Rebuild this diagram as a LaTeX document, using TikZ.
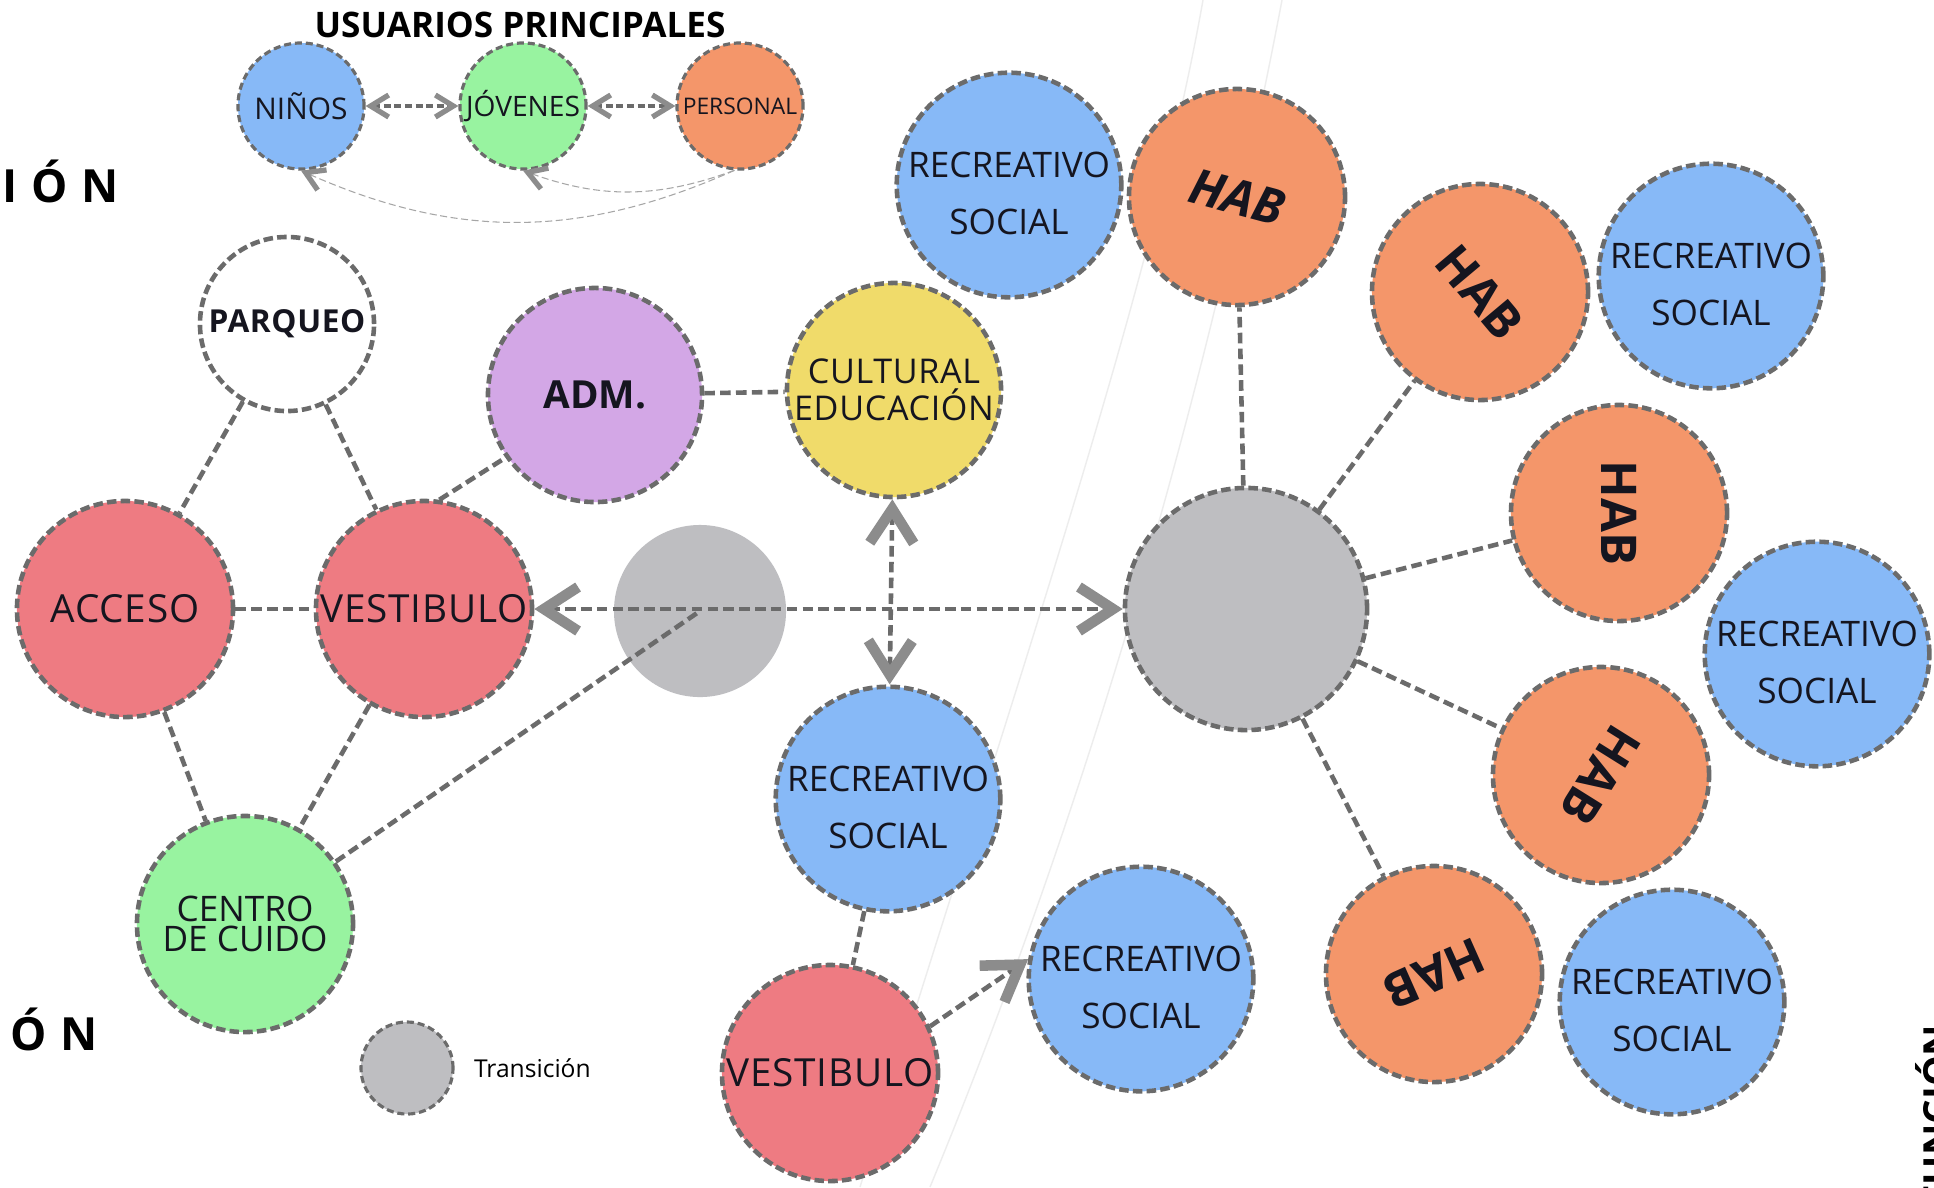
\documentclass[tikz,border=0pt]{standalone}
\usepackage{fontspec}
\usepackage{graphicx}
\usetikzlibrary{arrows.meta}
\setmainfont{Open Sans}
\newfontfamily\roomfont  {Open Sans}
\newfontfamily\spacedfont{Open Sans}[LetterSpace=2]
\newfontfamily\edgefont  {Open Sans}[LetterSpace=30]
\definecolor{kidblue}  {HTML}{87B9F7}
\definecolor{teengreen}{HTML}{98F3A0}
\definecolor{staffor}  {HTML}{F4966A}
\definecolor{accred}   {HTML}{EE7B82}
\definecolor{admpurple}{HTML}{D3A7E6}
\definecolor{culyellow}{HTML}{F0DB6A}
\definecolor{transgray}{HTML}{BEBEC1}
\definecolor{dashgray} {HTML}{6B6B6B}
\definecolor{tipgray}  {HTML}{8C8C8C}
\definecolor{faintgray}{HTML}{EDEDED}
\definecolor{txtink}   {HTML}{15151F}
\newcommand{\habtxt}[1]{\rotatebox[origin=c]{#1}{\bfseries HAB}}
\newcommand{\recsoc}{\rule{0pt}{12pt}RECREATIVO\\SOCIAL}
\tikzset{
  zone/.style     ={circle, draw=dashgray, line width=1.3pt, dash pattern=on 2.7pt off 1.2pt,
                    minimum size=2.16cm, inner sep=0pt, align=center, text=txtink,
                    font=\roomfont\fontsize{10}{16}\selectfont},
  recbox/.style   ={zone, fill=kidblue},
  habbox/.style   ={zone, fill=staffor, font=\roomfont\fontsize{14}{16}\selectfont},
  userbox/.style  ={zone, minimum size=1.26cm, line width=0.9pt, dash pattern=on 2pt off 1.1pt},
  link/.style     ={draw=dashgray, line width=1.3pt, dash pattern=on 3pt off 1.5pt},
  bigarr/.style   ={link, >={Straight Barb[length=3.4mm,width=4.4mm,line width=3pt,color=tipgray]}, <->},
  onearr/.style   ={link, >={Straight Barb[length=3.4mm,width=4.4mm,line width=3pt,color=tipgray]}, ->},
  legarr/.style   ={draw=dashgray, line width=0.9pt, dash pattern=on 2pt off 1pt,
                    >={Straight Barb[length=1.8mm,width=2.2mm,line width=1.5pt,color=tipgray]}, <->},
  legcurve/.style ={draw=gray!70, line width=0.3pt, dash pattern=on 2pt off 1pt,
                    >={Straight Barb[length=1.8mm,width=2.2mm,line width=1.5pt,color=tipgray]}, ->},
  edgelbl/.style  ={inner sep=0pt, font=\edgefont\bfseries\fontsize{13}{14}\selectfont},
  faint/.style    ={draw=faintgray, line width=0.4pt},
}

\begin{document}
\begin{tikzpicture}[x=0.01cm,y=-0.01cm]
    \useasboundingbox[fill=white] (0,0) rectangle (1934,1187);

    % faint guide curves
    \draw[faint] (1203,0) .. controls (1150,300) and (1010,700) .. (860,1187);
    \draw[faint] (1282,0) .. controls (1210,380) and (1090,800) .. (930,1187);

    % cut labels at the edges
    \node[edgelbl,anchor=west]                  (ionA) at (2,181)     {IÓN};
    \node[edgelbl,anchor=west]                  (ionB) at (10,1029)   {ÓN};
    \node[inner sep=0pt,font=\roomfont\bfseries\fontsize{11}{12}\selectfont,
          rotate=90,anchor=north east]          (func) at (1915,1024) {FUNCIÓN};

    % legend: main users
    \node[font=\bfseries\fontsize{10}{12}\selectfont] (ttl) at (520,25) {USUARIOS PRINCIPALES};
    \node[userbox,fill=kidblue,  font=\roomfont\fontsize{8.5}{10}\selectfont] (nin) at (301,106) {NIÑOS};
    \node[userbox,fill=teengreen,font=\roomfont\fontsize{8}{10}\selectfont]   (jov) at (523,106) {JÓVENES};
    \node[userbox,fill=staffor,  font=\roomfont\fontsize{6.5}{8}\selectfont]  (per) at (740,106) {PERSONAL};

    \draw[legarr]   (nin) -- (jov);
    \draw[legarr]   (jov) -- (per);
    \draw[legcurve] (per.265) to[bend left=24] (nin.south);
    \draw[legcurve] (per.265) to[bend left=20] (jov.south);

    % legend: transition
    \node[zone,fill=transgray,minimum size=0.92cm,line width=0.9pt,dash pattern=on 2pt off 1.1pt] (trleg) at (407,1068) {};
    \node[anchor=west,font=\roomfont\fontsize{7}{8}\selectfont] (trtxt) at ([xshift=2pt]trleg.east) {Transición};

    % access cluster
    \node[zone,fill=white,minimum size=1.74cm,font=\spacedfont\bfseries\fontsize{9}{10}\selectfont] (par) at (287,324) {PARQUEO};
    \node[zone,fill=accred,font=\spacedfont\fontsize{11}{12}\selectfont]     (acc) at (125,609) {ACCESO};
    \node[zone,fill=accred,font=\spacedfont\fontsize{11}{12}\selectfont]     (ves) at (424,609) {VESTIBULO};
    \node[zone,fill=teengreen,font=\roomfont\fontsize{10}{8.5}\selectfont]   (cen) at (245,924) {CENTRO\\DE CUIDO};
    \node[zone,fill=admpurple,minimum size=2.14cm,font=\roomfont\bfseries\fontsize{11}{12}\selectfont] (adm) at (595,395) {ADM.};
    \node[zone,fill=culyellow,minimum size=2.14cm,font=\spacedfont\fontsize{9.7}{10.5}\selectfont]     (cul) at (894,390) {CULTURAL\\EDUCACIÓN};
    \node[circle,fill=transgray,minimum size=1.72cm,inner sep=0pt]          (tr)  at (700,611) {};

    % central axis
    \node[recbox]                                   (rec1) at (888,799)  {\recsoc};
    \node[zone,fill=accred,font=\spacedfont\fontsize{11}{12}\selectfont] (ves2) at (830,1073) {VESTIBULO};
    \node[recbox]                                   (rec2) at (1141,979) {\recsoc};
    \node[zone,fill=transgray,minimum size=2.42cm]  (hub)  at (1246,609) {};

    % rooms around the hub
    \node[recbox]                                   (rec3) at (1009,185) {\recsoc};
    \node[habbox,font=\roomfont\itshape\fontsize{14}{16}\selectfont] (hab1) at (1237,197) {\habtxt{-15}};
    \node[habbox]                                   (hab2) at (1480,292) {\habtxt{-50}};
    \node[recbox]                                   (rec4) at (1711,276) {\recsoc};
    \node[habbox]                                   (hab3) at (1619,513) {\habtxt{-90}};
    \node[recbox]                                   (rec5) at (1817,654) {\recsoc};
    \node[habbox]                                   (hab4) at (1601,775) {\habtxt{-122}};
    \node[habbox]                                   (hab5) at (1434,974) {\habtxt{204}};
    \node[recbox]                                   (rec6) at (1672,1002) {\recsoc};

    \draw[link] (par) -- (acc);
    \draw[link] (par) -- (ves);
    \draw[link] (acc) -- (ves);
    \draw[link] (ves.82) -- (adm.215);
    \draw[link] (adm) -- (cul);
    \draw[link] (acc) -- (cen);
    \draw[link] (ves) -- (cen);
    \draw[link] (cen) -- (tr.center);

    \draw[bigarr] (ves) -- (hub);
    \draw[bigarr] (cul) -- (rec1);
    \draw[link]   (rec1) -- (ves2);
    \draw[onearr] (ves2.25) -- (rec2.170);

    \foreach \h in {hab1,hab2,hab3,hab4,hab5}
      \draw[link] (hub) -- (\h);
\end{tikzpicture}
\end{document}
